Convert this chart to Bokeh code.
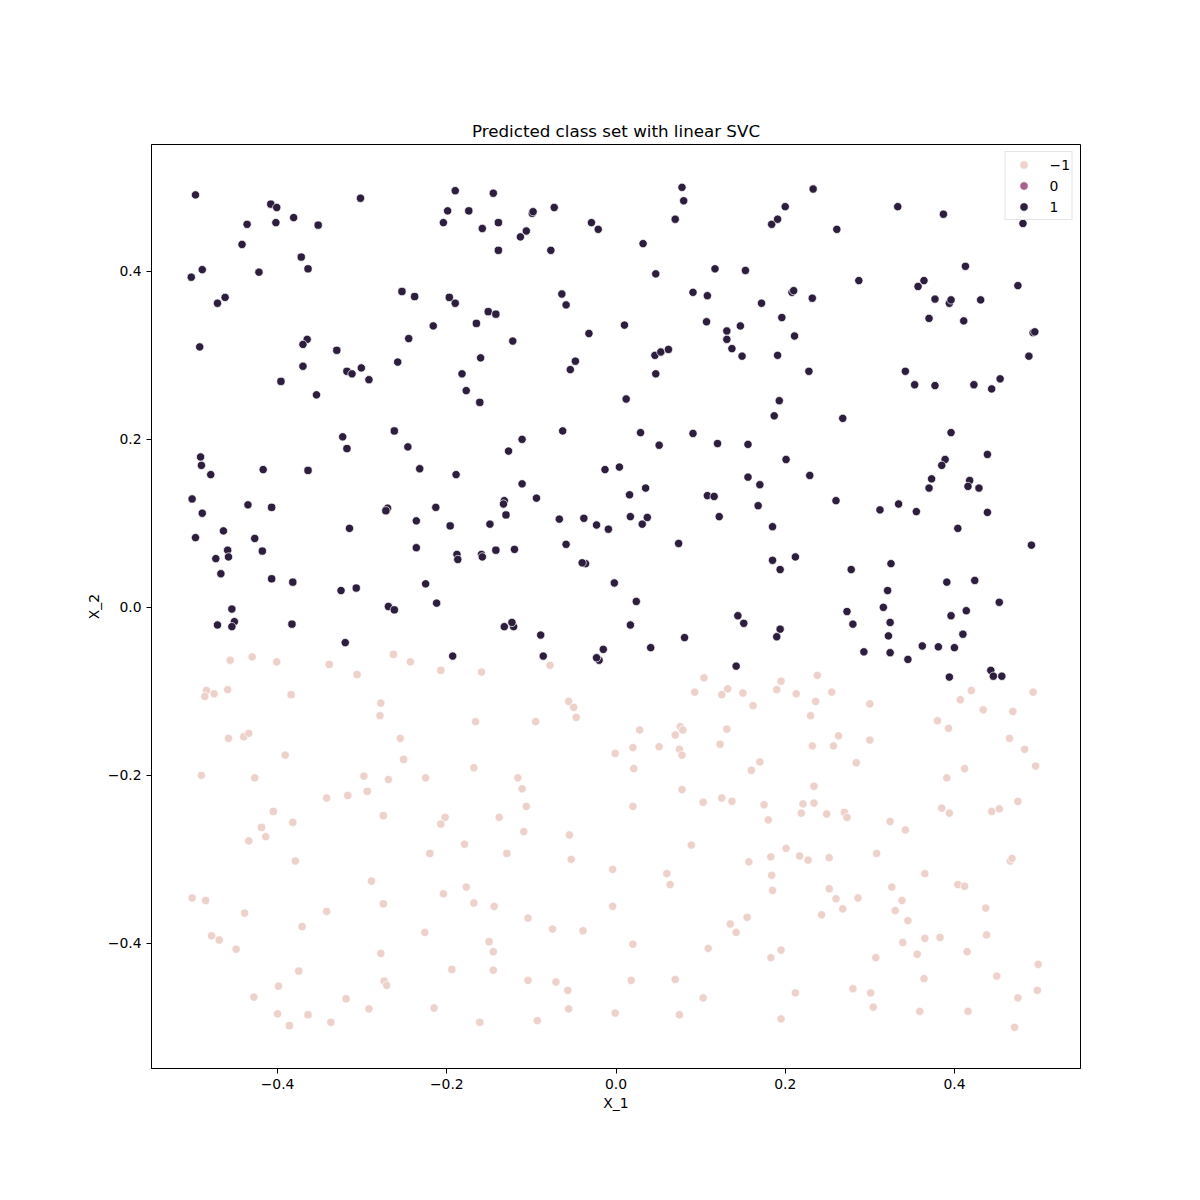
from bokeh.plotting import figure
from bokeh.models import FixedTicker, CustomJSTickFormatter, Range1d
from bokeh.embed import file_html
from bokeh.resources import INLINE

# class labels and colours
class_labels = ["\u22121", "0", "1"]
class_colors = ["#edd1cb", "#a8628c", "#2d1e3e"]
ticks = [-0.4, -0.2, 0.0, 0.2, 0.4]

# predicted class 1 points (X_1, X_2)
pos_pts = [
    (-0.497,0.491),(-0.408,0.480),(-0.401,0.476),(-0.436,0.456),(-0.402,0.458),(-0.381,0.464),(-0.352,0.455),(-0.302,0.487),(-0.190,0.496),(-0.199,0.472),(-0.204,0.458),(-0.442,0.432),(-0.372,0.417),(-0.364,0.403),(-0.489,0.402),(-0.502,0.393),(-0.422,0.399),(-0.462,0.369),(-0.471,0.362),(-0.253,0.376),(-0.238,0.370),(-0.197,0.369),(-0.190,0.362),(-0.216,0.335),(-0.245,0.320),(-0.492,0.310),(-0.365,0.319),(-0.370,0.313),(-0.330,0.306),(-0.370,0.287),(-0.258,0.292),(-0.301,0.285),(-0.318,0.281),(-0.312,0.278),(-0.182,0.278),
    (-0.145,0.493),(-0.174,0.472),(-0.139,0.458),(-0.158,0.451),(-0.099,0.469),(-0.098,0.471),(-0.073,0.476),(-0.106,0.448),(-0.113,0.441),(-0.139,0.425),(-0.077,0.425),(-0.029,0.458),(-0.021,0.450),(0.078,0.500),(0.080,0.484),(0.070,0.462),(0.032,0.433),(0.047,0.397),(0.117,0.403),(0.153,0.401),(0.184,0.456),(0.091,0.375),(0.108,0.371),(0.172,0.362),(-0.064,0.373),(-0.059,0.360),(-0.151,0.352),(-0.142,0.349),(-0.165,0.338),(-0.122,0.317),(-0.032,0.326),(0.010,0.336),(0.107,0.340),(0.131,0.329),(0.131,0.319),(0.147,0.335),(0.137,0.308),(0.149,0.299),(-0.160,0.297),(-0.048,0.293),(-0.054,0.283),(0.046,0.300),(0.053,0.304),(0.062,0.307),(0.047,0.278),
    (0.233,0.498),(0.200,0.477),(0.191,0.462),(0.261,0.450),(0.333,0.477),(0.387,0.468),(0.481,0.457),(0.413,0.406),(0.287,0.389),(0.357,0.382),(0.364,0.389),(0.475,0.383),(0.208,0.375),(0.210,0.377),(0.232,0.368),(0.377,0.367),(0.394,0.362),(0.396,0.366),(0.431,0.366),(0.196,0.345),(0.370,0.344),(0.411,0.341),(0.211,0.323),(0.493,0.327),(0.495,0.328),(0.191,0.300),(0.488,0.299),(0.228,0.281),(0.342,0.281),
    (-0.396,0.269),(-0.292,0.271),(-0.354,0.253),(-0.262,0.210),(-0.323,0.203),(-0.318,0.189),(-0.246,0.191),(-0.491,0.179),(-0.490,0.169),(-0.479,0.158),(-0.417,0.164),(-0.364,0.163),(-0.232,0.165),(-0.189,0.158),(-0.501,0.129),(-0.489,0.112),(-0.435,0.122),(-0.407,0.119),(-0.270,0.118),(-0.272,0.115),(-0.213,0.119),(-0.236,0.103),(-0.196,0.097),(-0.315,0.094),(-0.497,0.083),(-0.464,0.091),(-0.427,0.082),(-0.418,0.067),(-0.459,0.068),(-0.458,0.060),(-0.473,0.058),(-0.236,0.071),(-0.188,0.063),(-0.187,0.057),(-0.467,0.040),(-0.407,0.034),(-0.382,0.030),(-0.325,0.020),(-0.307,0.023),(-0.225,0.028),(-0.212,0.005),(-0.269,0.001),(-0.262,-0.003),(-0.454,-0.002),
    (-0.177,0.258),(-0.161,0.244),(0.012,0.248),(-0.063,0.210),(-0.111,0.200),(-0.127,0.186),(0.029,0.208),(0.051,0.193),(0.091,0.207),(0.120,0.195),(0.156,0.194),(-0.013,0.164),(0.004,0.167),(-0.111,0.147),(-0.094,0.130),(-0.132,0.127),(-0.133,0.123),(-0.130,0.110),(0.016,0.134),(0.035,0.142),(0.108,0.133),(0.116,0.132),(0.156,0.155),(0.170,0.146),(0.168,0.121),(-0.149,0.099),(-0.067,0.105),(-0.038,0.106),(-0.023,0.098),(-0.009,0.093),(0.017,0.108),(0.037,0.107),(0.031,0.099),(0.122,0.108),(-0.059,0.075),(0.074,0.076),(-0.120,0.069),(-0.142,0.068),(-0.159,0.063),(-0.158,0.060),(-0.036,0.052),(-0.040,0.053),(-0.002,0.029),(0.024,0.007),
    (0.353,0.265),(0.377,0.264),(0.423,0.265),(0.444,0.260),(0.454,0.272),(0.193,0.246),(0.187,0.228),(0.268,0.225),(0.396,0.208),(0.439,0.182),(0.389,0.176),(0.385,0.169),(0.201,0.176),(0.229,0.157),(0.373,0.153),(0.370,0.142),(0.418,0.151),(0.416,0.144),(0.429,0.142),(0.260,0.127),(0.312,0.116),(0.334,0.123),(0.355,0.114),(0.439,0.113),(0.404,0.094),(0.185,0.096),(0.491,0.074),(0.212,0.060),(0.194,0.045),(0.185,0.056),(0.278,0.045),(0.325,0.052),(0.321,0.020),(0.391,0.030),(0.424,0.032),(0.453,0.006),
    (-0.451,-0.017),(-0.454,-0.023),(-0.471,-0.021),(-0.383,-0.020),(-0.320,-0.042),(-0.193,-0.058),
    (-0.132,-0.023),(-0.121,-0.023),(-0.123,-0.018),(-0.089,-0.033),(-0.086,-0.058),(0.017,-0.021),(-0.015,-0.050),(-0.020,-0.063),(-0.023,-0.060),(0.041,-0.048),(0.081,-0.036),(0.144,-0.010),(0.151,-0.019),(0.142,-0.070),
    (0.273,-0.005),(0.316,0.000),(0.414,-0.004),(0.194,-0.026),(0.190,-0.035),(0.280,-0.020),(0.324,-0.018),(0.322,-0.034),(0.293,-0.053),(0.324,-0.054),(0.345,-0.062),(0.396,-0.010),(0.410,-0.032),(0.362,-0.046),(0.381,-0.047),(0.400,-0.048),(0.394,-0.083),(0.443,-0.075),(0.446,-0.082),(0.456,-0.082),
]

# predicted class -1 points (X_1, X_2)
neg_pts = [
    (-0.456,-0.063),(-0.430,-0.059),(-0.401,-0.065),(-0.339,-0.068),(-0.306,-0.080),(-0.263,-0.056),(-0.243,-0.065),(-0.207,-0.075),(-0.484,-0.099),(-0.475,-0.103),(-0.486,-0.106),(-0.459,-0.098),(-0.384,-0.104),(-0.278,-0.114),(-0.279,-0.129),(-0.458,-0.156),(-0.440,-0.154),(-0.434,-0.150),(-0.255,-0.156),(-0.391,-0.176),(-0.251,-0.181),(-0.490,-0.200),(-0.427,-0.203),(-0.298,-0.201),(-0.269,-0.205),(-0.225,-0.203),(-0.294,-0.219),(-0.317,-0.224),(-0.342,-0.227),(-0.405,-0.243),(-0.382,-0.256),(-0.419,-0.262),(-0.414,-0.273),(-0.434,-0.278),(-0.275,-0.248),(-0.202,-0.250),(-0.207,-0.258),
    (-0.078,-0.069),(-0.159,-0.077),(0.104,-0.084),(0.093,-0.101),(0.125,-0.104),(0.132,-0.097),(0.150,-0.102),(0.162,-0.117),(-0.056,-0.112),(-0.050,-0.119),(-0.047,-0.131),(-0.166,-0.136),(-0.095,-0.136),(0.028,-0.146),(0.076,-0.142),(0.079,-0.146),(0.070,-0.152),(0.131,-0.145),(0.123,-0.163),(-0.001,-0.174),(0.020,-0.167),(0.051,-0.166),(0.075,-0.169),(0.078,-0.176),(-0.168,-0.191),(0.021,-0.192),(0.170,-0.184),(0.160,-0.194),(-0.116,-0.203),(-0.111,-0.216),(0.078,-0.217),(-0.106,-0.237),(0.020,-0.237),(0.103,-0.232),(0.125,-0.227),(0.137,-0.231),(0.175,-0.235),(0.180,-0.253),(-0.138,-0.250),(-0.109,-0.267),(-0.055,-0.271),
    (0.238,-0.081),(0.195,-0.088),(0.190,-0.098),(0.213,-0.103),(0.255,-0.101),(0.236,-0.112),(0.300,-0.115),(0.230,-0.129),(0.263,-0.153),(0.232,-0.165),(0.257,-0.165),(0.300,-0.158),(0.284,-0.185),(0.420,-0.099),(0.407,-0.110),(0.493,-0.101),(0.434,-0.122),(0.469,-0.124),(0.380,-0.135),(0.393,-0.144),(0.465,-0.156),(0.483,-0.169),(0.496,-0.189),(0.412,-0.192),(0.391,-0.203),(0.234,-0.213),(0.221,-0.234),(0.234,-0.233),(0.219,-0.245),(0.249,-0.246),(0.270,-0.244),(0.273,-0.250),(0.324,-0.255),(0.342,-0.265),(0.385,-0.239),(0.394,-0.245),(0.444,-0.243),(0.453,-0.240),(0.475,-0.231),
    (-0.379,-0.302),(-0.220,-0.293),(-0.289,-0.326),(-0.204,-0.341),(-0.501,-0.346),(-0.485,-0.349),(-0.439,-0.364),(-0.342,-0.362),(-0.275,-0.353),(-0.371,-0.380),(-0.226,-0.387),(-0.478,-0.391),(-0.469,-0.396),(-0.449,-0.407),(-0.278,-0.412),(-0.194,-0.431),(-0.375,-0.433),(-0.399,-0.451),(-0.274,-0.445),(-0.271,-0.450),(-0.428,-0.464),(-0.319,-0.466),(-0.292,-0.478),(-0.215,-0.477),(-0.400,-0.484),(-0.364,-0.485),(-0.337,-0.494),(-0.386,-0.498),
    (-0.179,-0.282),(-0.129,-0.293),(-0.053,-0.300),(-0.004,-0.312),(0.089,-0.283),(0.060,-0.317),(0.064,-0.330),(0.157,-0.303),(-0.177,-0.333),(-0.168,-0.352),(-0.144,-0.356),(-0.004,-0.356),(-0.104,-0.370),(-0.075,-0.383),(-0.039,-0.385),(0.135,-0.377),(0.142,-0.387),(0.155,-0.369),(-0.150,-0.398),(-0.145,-0.410),(0.020,-0.401),(0.109,-0.406),(-0.145,-0.432),(-0.104,-0.444),(-0.071,-0.446),(-0.057,-0.456),(0.018,-0.444),(0.070,-0.443),(0.103,-0.465),(-0.056,-0.478),(-0.001,-0.483),(0.075,-0.485),(-0.161,-0.494),(-0.093,-0.492),
    (0.201,-0.287),(0.217,-0.296),(0.227,-0.301),(0.252,-0.298),(0.308,-0.293),(0.183,-0.297),(0.184,-0.319),(0.185,-0.337),(0.252,-0.335),(0.260,-0.347),(0.286,-0.346),(0.268,-0.359),(0.243,-0.366),(0.365,-0.317),(0.326,-0.333),(0.338,-0.349),(0.330,-0.361),(0.345,-0.373),(0.404,-0.330),(0.412,-0.332),(0.466,-0.302),(0.468,-0.299),(0.437,-0.358),(0.438,-0.390),(0.339,-0.399),(0.365,-0.394),(0.383,-0.393),(0.356,-0.413),(0.415,-0.410),(0.195,-0.408),(0.183,-0.417),(0.307,-0.417),(0.499,-0.425),(0.450,-0.439),(0.364,-0.442),(0.212,-0.459),(0.280,-0.454),(0.301,-0.459),(0.304,-0.476),(0.359,-0.481),(0.416,-0.481),(0.498,-0.456),(0.475,-0.465),(0.471,-0.500),(0.195,-0.490),
]

# predicted class 0: no points (a NaN placeholder keeps its legend swatch)
zero_pts = [(float("nan"), float("nan"))]

FONT = "DejaVu Sans"

p = figure(width=1184, height=1184, output_backend="svg", toolbar_location=None,
           title="Predicted class set with linear SVC",
           x_range=Range1d(-0.549, 0.549), y_range=Range1d(-0.549, 0.551),
           min_border_left=151, min_border_right=104, min_border_top=144, min_border_bottom=116)
p.background_fill_color = "white"
p.border_fill_color = "white"
p.outline_line_color = "black"
p.outline_line_width = 1
p.grid.visible = False

p.title.align = "center"
p.title.text_font = FONT
p.title.text_font_style = "normal"
p.title.text_font_size = "16.7px"
p.title.text_color = "black"
p.title.standoff = 7

fmt = CustomJSTickFormatter(code="return (tick < -1e-9 ? '\u2212' : '') + Math.abs(tick).toFixed(1);")
for ax, lab in ((p.xaxis[0], "X_1"), (p.yaxis[0], "X_2")):
    ax.ticker = FixedTicker(ticks=ticks)
    ax.formatter = fmt
    ax.axis_label = lab
    ax.axis_label_text_font = FONT
    ax.axis_label_text_font_style = "normal"
    ax.axis_label_text_font_size = "13.9px"
    ax.axis_label_text_color = "black"
    ax.major_label_text_font = FONT
    ax.major_label_text_font_size = "13.9px"
    ax.major_label_text_color = "black"
    ax.axis_line_color = "black"
    ax.major_tick_line_color = "black"
    ax.major_tick_out = 5
    ax.major_tick_in = 0
    ax.minor_tick_line_color = None
    ax.major_label_standoff = 5
    ax.axis_label_standoff = 3

groups = [(neg_pts, 0), (zero_pts, 1), (pos_pts, 2)]
for pts, i in groups:
    xs = [a for a, b in pts]
    ys = [b for a, b in pts]
    p.scatter(xs, ys, size=8.3, marker="circle", fill_color=class_colors[i],
              line_color="white", line_width=0.7, legend_label=class_labels[i])

leg = p.legend[0]
leg.location = "top_right"
leg.margin = 7
leg.padding = 2
leg.spacing = -1
leg.glyph_width = 32
leg.glyph_height = 21
leg.label_height = 20
leg.label_standoff = 10
leg.label_text_font = FONT
leg.label_text_font_size = "13.9px"
leg.label_text_color = "black"
leg.border_line_color = "#cccccc"
leg.border_line_width = 1
leg.background_fill_alpha = 0.8

with open("out.html", "w", encoding="utf-8") as f:
    f.write(file_html(p, INLINE))
